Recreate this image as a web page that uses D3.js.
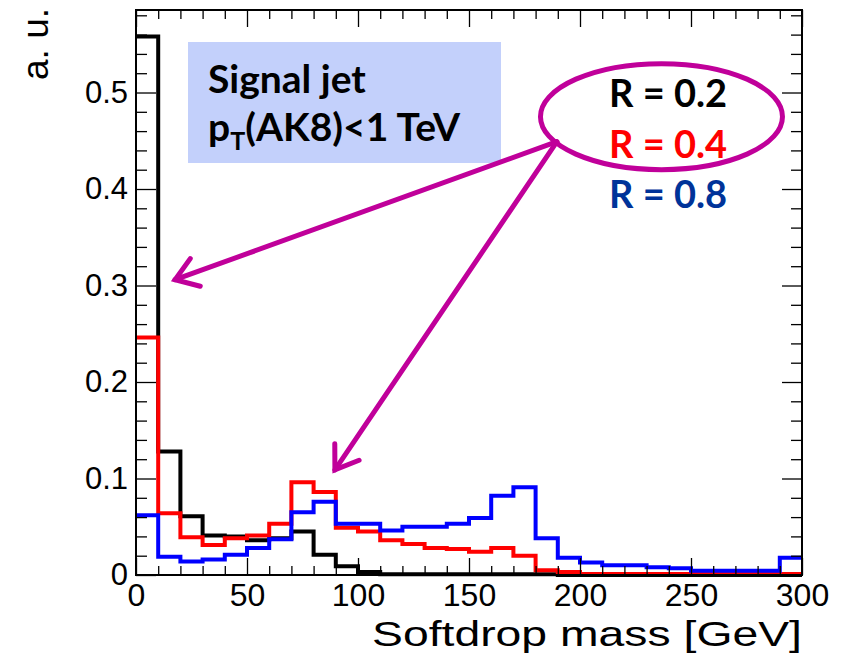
<!DOCTYPE html>
<html>
<head>
<meta charset="utf-8">
<script src="https://cdn.jsdelivr.net/npm/d3@7"></script>
<style>
body { margin: 0; background: #fff; }
svg { display: block; }
</style>
</head>
<body>
<div id="chart"></div>
<script>
// bin low edges [GeV], 10 GeV wide
var binLow = [0, 10, 20, 30, 40, 50, 60, 70, 80, 90, 100, 110, 120, 130, 140,
  150, 160, 170, 180, 190, 200, 210, 220, 230, 240, 250, 260, 270, 280, 290];
var binWidth = 10;

// a.u. per bin
var r02 = [0.558, 0.128, 0.061, 0.041, 0.040, 0.036, 0.038, 0.045, 0.021, 0.009,
  0.003, 0.0008, 0.0008, 0.0008, 0.0008, 0.0008, 0.0008, 0.0008, 0.0008, 0,
  0, 0, 0, 0, 0, 0, 0, 0, 0, 0];
var r04 = [0.246, 0.064, 0.039, 0.031, 0.038, 0.041, 0.053, 0.096, 0.086, 0.049,
  0.045, 0.036, 0.032, 0.028, 0.027, 0.024, 0.028, 0.020, 0.005, 0.003,
  0.001, 0.001, 0.001, 0.001, 0.001, 0.001, 0.001, 0.001, 0.001, 0.001];
var r08 = [0.062, 0.019, 0.014, 0.016, 0.021, 0.028, 0.037, 0.065, 0.076, 0.053,
  0.053, 0.046, 0.050, 0.050, 0.053, 0.059, 0.082, 0.091, 0.038, 0.018,
  0.013, 0.010, 0.010, 0.008, 0.007, 0.0045, 0.0045, 0.0045, 0.0045, 0.018];

var xTicks = [0, 50, 100, 150, 200, 250, 300];
var xMinor = [10, 20, 30, 40, 60, 70, 80, 90, 110, 120, 130, 140, 160, 170, 180, 190,
  210, 220, 230, 240, 260, 270, 280, 290];
var yTicks = [0, 0.1, 0.2, 0.3, 0.4, 0.5];
var yMinor = [0.02, 0.04, 0.06, 0.08, 0.12, 0.14, 0.16, 0.18, 0.22, 0.24, 0.26, 0.28,
  0.32, 0.34, 0.36, 0.38, 0.42, 0.44, 0.46, 0.48, 0.52, 0.54, 0.56, 0.58];

var seriesNames = ["R = 0.2", "R = 0.4", "R = 0.8"];
var lineColors = ["#000000", "#ff0000", "#0000ff"];
var legendColors = ["#000000", "#ff0000", "#003399"];

var width = 846;
var height = 654;
var margin = { left: 136, right: 44, top: 10, bottom: 79 };
var plotW = width - margin.left - margin.right;
var plotH = height - margin.top - margin.bottom;

var svg = d3.select("#chart")
  .append("svg")
  .attr("width", width)
  .attr("height", height);

var x = d3.scaleLinear().domain([0, 300]).range([0, plotW]);
var y = d3.scaleLinear().domain([0, 0.5855]).range([plotH, 0]);

var g = svg.append("g")
  .attr("transform", "translate(" + margin.left + "," + margin.top + ")");

var tickFont = "'Liberation Sans', Arial, Helvetica, sans-serif";

// histograms as step outlines
function stepPath(vals) {
  var p = d3.path();
  vals.forEach(function(v, i) {
    var x0 = x(binLow[i]), x1 = x(binLow[i] + binWidth);
    if (i === 0) p.moveTo(x0, y(v));
    else p.lineTo(x0, y(v));
    p.lineTo(x1, y(v));
  });
  return p.toString();
}

[r02, r04, r08].forEach(function(vals, i) {
  g.append("path")
    .attr("d", stepPath(vals))
    .attr("fill", "none")
    .attr("stroke", lineColors[i])
    .attr("stroke-width", 4)
    .attr("stroke-linejoin", "miter");
});

// axes, ticks pointing inward on all four sides
var fmt = function(d) { return d === 0 ? "0" : d3.format(".1f")(d); };

var xAxis = g.append("g")
  .attr("transform", "translate(0," + plotH + ")")
  .call(d3.axisBottom(x).tickValues(xTicks).tickSize(-17).tickPadding(8).tickFormat(d3.format("d")));
xAxis.append("g")
  .call(d3.axisBottom(x).tickValues(xMinor).tickSize(-9).tickFormat(""));

var yAxis = g.append("g")
  .call(d3.axisLeft(y).tickValues(yTicks).tickSize(-20).tickPadding(8).tickFormat(fmt));
yAxis.append("g")
  .call(d3.axisLeft(y).tickValues(yMinor).tickSize(-11).tickFormat(""));

var topAxis = g.append("g")
  .call(d3.axisTop(x).tickValues(xTicks).tickSize(-17).tickFormat(""));
topAxis.append("g")
  .call(d3.axisTop(x).tickValues(xMinor).tickSize(-9).tickFormat(""));

var rightAxis = g.append("g")
  .attr("transform", "translate(" + plotW + ",0)")
  .call(d3.axisRight(y).tickValues(yTicks).tickSize(-20).tickFormat(""));
rightAxis.append("g")
  .call(d3.axisRight(y).tickValues(yMinor).tickSize(-11).tickFormat(""));

g.selectAll(".domain").remove();
g.selectAll(".tick line").attr("stroke", "#000").attr("stroke-width", 1.3);
g.selectAll(".tick text")
  .attr("fill", "#000")
  .style("font-family", tickFont);
xAxis.selectAll(".tick text").style("font-size", "32px");
yAxis.selectAll(".tick text").style("font-size", "31px");

// frame
g.append("rect")
  .attr("x", 0).attr("y", 0)
  .attr("width", plotW).attr("height", plotH)
  .attr("fill", "none")
  .attr("stroke", "#000")
  .attr("stroke-width", 2);

// axis titles
svg.append("text")
  .attr("x", 372)
  .attr("y", 646)
  .attr("textLength", 430)
  .attr("lengthAdjust", "spacingAndGlyphs")
  .style("font-family", tickFont)
  .style("font-size", "35px")
  .text("Softdrop mass [GeV]");

svg.append("text")
  .attr("transform", "translate(48,8) rotate(-90)")
  .attr("text-anchor", "end")
  .style("font-family", tickFont)
  .style("font-size", "37px")
  .text("a. u.");

// annotation box
var noteFont = "Lato, 'Open Sans', sans-serif";
svg.append("rect")
  .attr("x", 188).attr("y", 42)
  .attr("width", 313).attr("height", 121)
  .attr("fill", "#c3d0fb");

svg.append("text")
  .attr("x", 208).attr("y", 93)
  .style("font-family", noteFont)
  .style("font-weight", 700)
  .style("font-size", "39px")
  .text("Signal jet");

var pt = svg.append("text")
  .attr("x", 208).attr("y", 141)
  .style("font-family", noteFont)
  .style("font-weight", 700)
  .style("font-size", "39px");
pt.append("tspan").text("p");
pt.append("tspan").attr("dy", 9).style("font-size", "25px").text("T");
pt.append("tspan").attr("dy", -9).text("(AK8)<1 TeV");

// ellipse + arrows (positions in data units)
var magenta = "#c0009a";
var ellC = [236.7, 0.475];
svg.append("ellipse")
  .attr("cx", margin.left + x(ellC[0]))
  .attr("cy", margin.top + y(ellC[1]))
  .attr("rx", 121).attr("ry", 53)
  .attr("fill", "none")
  .attr("stroke", magenta)
  .attr("stroke-width", 5);

var arrowFrom = [189.6, 0.449];
var arrowTips = [[17.6, 0.306], [89.6, 0.109]];
arrowTips.forEach(function(t) {
  var x0 = margin.left + x(arrowFrom[0]), y0 = margin.top + y(arrowFrom[1]);
  var x1 = margin.left + x(t[0]), y1 = margin.top + y(t[1]);
  var ang = Math.atan2(y0 - y1, x0 - x1);
  var len = 26, spread = 0.6;
  var a = svg.append("g")
    .attr("fill", "none")
    .attr("stroke", magenta)
    .attr("stroke-width", 5)
    .attr("stroke-linecap", "round");
  a.append("line").attr("x1", x0).attr("y1", y0).attr("x2", x1).attr("y2", y1);
  a.append("path")
    .attr("stroke-linejoin", "miter")
    .attr("d", "M" + (x1 + len * Math.cos(ang + spread)) + "," + (y1 + len * Math.sin(ang + spread)) +
      "L" + x1 + "," + y1 +
      "L" + (x1 + len * Math.cos(ang - spread)) + "," + (y1 + len * Math.sin(ang - spread)));
});

// legend labels
var legY = [107, 158, 208];
seriesNames.forEach(function(name, i) {
  svg.append("text")
    .attr("x", 609)
    .attr("y", legY[i])
    .attr("fill", legendColors[i])
    .style("font-family", noteFont)
    .style("font-weight", 700)
    .style("font-size", "38px")
    .text(name);
});
</script>
</body>
</html>
